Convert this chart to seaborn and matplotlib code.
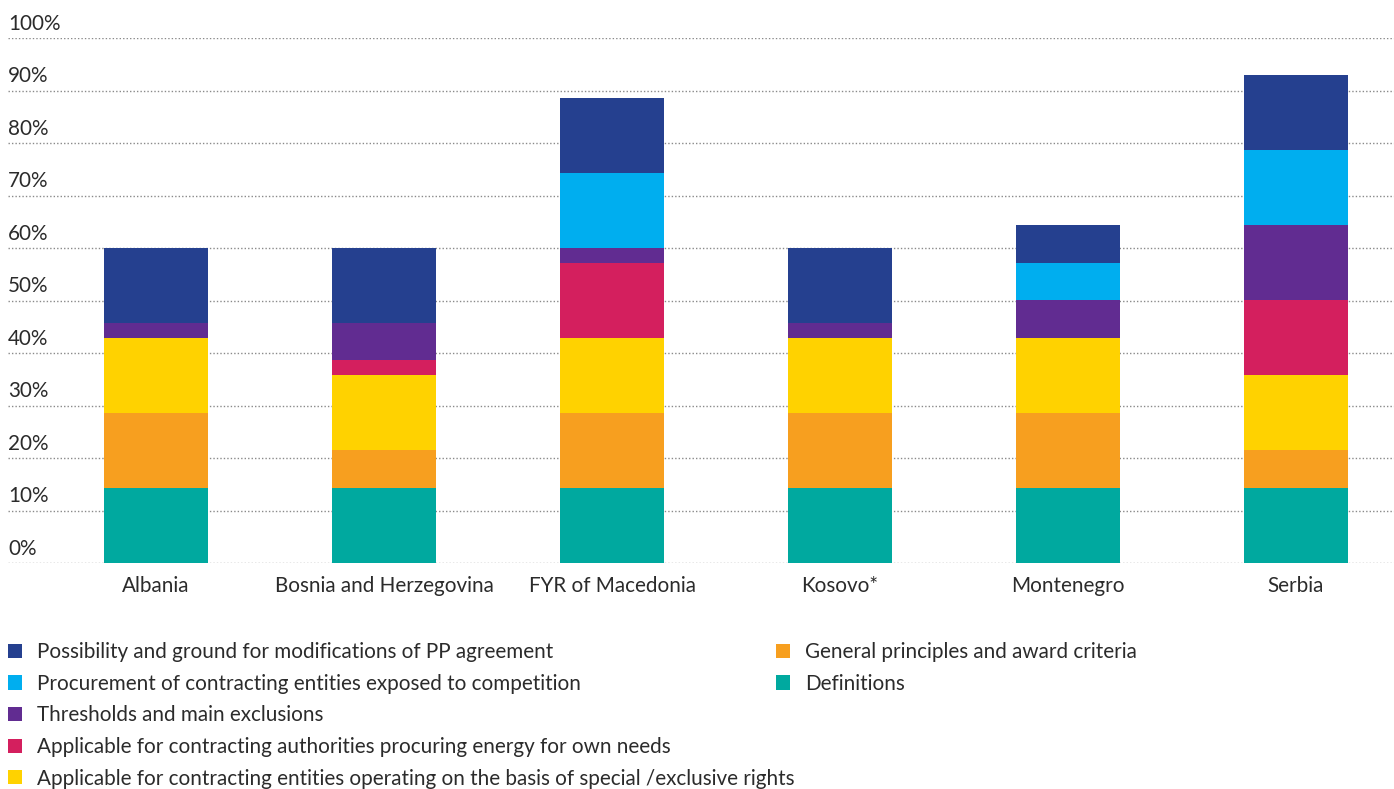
import numpy as np
import pandas as pd
import matplotlib
matplotlib.use("Agg")
import matplotlib.pyplot as plt
import matplotlib.transforms as mtransforms
from matplotlib.patches import Patch
import seaborn as sns

# -----------------------------
# Data (shares in %)
# -----------------------------

countries = ["Albania", "Bosnia and Herzegovina", "FYR of Macedonia",
             "Kosovo*", "Montenegro", "Serbia"]

definitions = [14.29, 14.29, 14.29, 14.29, 14.29, 14.29]
general_principles = [14.29, 7.14, 14.29, 14.29, 14.29, 7.14]
special_rights = [14.29, 14.29, 14.29, 14.29, 14.29, 14.29]
energy_needs = [0, 2.86, 14.29, 0, 0, 14.29]
thresholds = [2.86, 7.14, 2.86, 2.86, 7.14, 14.29]
exposed_competition = [0, 0, 14.29, 0, 7.14, 14.29]
modifications = [14.29, 14.29, 14.29, 14.29, 7.14, 14.29]

y_ticks = [0, 10, 20, 30, 40, 50, 60, 70, 80, 90, 100]

# stacking order, bottom to top
series = [
    ("Definitions", definitions, "#00A99F"),
    ("General principles and award criteria", general_principles, "#F79F1F"),
    ("Applicable for contracting entities operating on the basis of special /exclusive rights",
     special_rights, "#FFD200"),
    ("Applicable for contracting authorities procuring energy for own needs",
     energy_needs, "#D41F5E"),
    ("Thresholds and main exclusions", thresholds, "#612C91"),
    ("Procurement of contracting entities exposed to competition",
     exposed_competition, "#00AEEF"),
    ("Possibility and ground for modifications of PP agreement",
     modifications, "#25408F"),
]

# -----------------------------
# Style
# -----------------------------

sns.set_theme(style="white")
plt.rcParams["font.family"] = ["Lato", "DejaVu Sans"]
text_color = "#2b2b2b"
fs = 14.9

fig = plt.figure(figsize=(13.94, 7.89), dpi=100)
ax = fig.add_axes([8 / 1394, (789 - 563) / 789, 1 - 8 / 1394, 525 / 789])

# -----------------------------
# Stacked bars (cumulative, drawn top layer first)
# -----------------------------

cum = np.zeros(len(countries))
layers = []
for name, vals, color in series:
    cum = cum + np.array(vals)
    layers.append((name, cum.copy(), color))

for name, top, color in reversed(layers):
    df = pd.DataFrame({"country": countries, "value": top})
    sns.barplot(data=df, x="country", y="value", color=color,
                width=0.456, saturation=1, linewidth=0, ax=ax, zorder=3)

ax.set_xlim(-0.65, len(countries) - 0.57)
ax.set_ylim(0, 100)
ax.set_xlabel("")
ax.set_ylabel("")

# gridlines + labels above them
for t in y_ticks:
    ax.axhline(t, color="#8a8a8a", linewidth=1.0,
               linestyle=(0, (1, 1.5)), zorder=1)
trans = mtransforms.blended_transform_factory(ax.transAxes, ax.transData)
for t in y_ticks:
    ax.text(0, t + 1.6, f"{t}%", transform=trans, ha="left", va="baseline",
            fontsize=fs, color=text_color)

ax.set_yticks([])
ax.tick_params(axis="x", length=0, pad=9, labelsize=fs, labelcolor=text_color)
for s in ax.spines.values():
    s.set_visible(False)

# -----------------------------
# Legend (two blocks)
# -----------------------------

left_order = [6, 5, 4, 3, 2]
right_order = [1, 0]

def make_handles(order):
    return [Patch(facecolor=series[i][2], edgecolor="none") for i in order], \
           [series[i][0] for i in order]

legend_kw = dict(loc="upper left", frameon=False, fontsize=fs,
                 labelcolor=text_color, handlelength=0.68, handleheight=0.68,
                 handletextpad=0.72, labelspacing=0.56, borderaxespad=0,
                 borderpad=0.3)

h, l = make_handles(left_order)
fig.legend(h, l, bbox_to_anchor=(2 / 1394, 1 - 636 / 789), **legend_kw)

h, l = make_handles(right_order)
fig.legend(h, l, bbox_to_anchor=(770 / 1394, 1 - 636 / 789), **legend_kw)

fig.savefig("out.png", dpi=100)
